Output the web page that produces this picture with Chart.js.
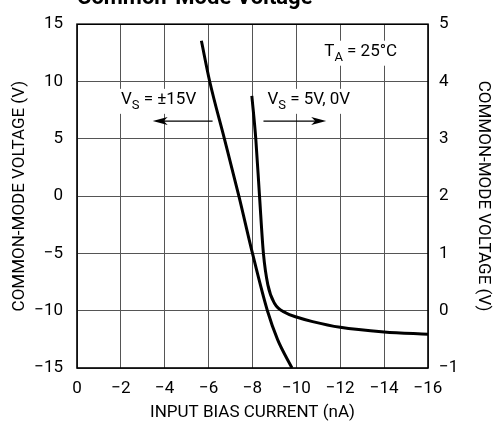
<!DOCTYPE html>
<html>
<head>
<meta charset="utf-8">
<script src="https://cdn.jsdelivr.net/npm/chart.js@4.4.0/dist/chart.umd.min.js"></script>
<style>
  html, body { margin: 0; padding: 0; background: #fff; }
  #wrap { width: 495px; height: 423px; }
</style>
</head>
<body>
<div id="wrap"><canvas id="chart" width="495" height="423"></canvas></div>
<script>
// --- data ---
// Vs = ±15V, plotted on left axis (V)
const dual15X = [-5.67, -6.05, -6.72, -7.38, -8.0, -8.68, -9.14, -9.8];
const dual15Y = [13.55, 10, 5, 0, -5, -10, -12.5, -15];

// Vs = 5V, 0V, plotted on right axis (V)
const singleX = [-7.97, -8.15, -8.32, -8.5, -8.7, -9.0, -9.53, -10.0, -10.74, -12.0, -14.0, -16.0];
const singleY = [3.75, 3.0, 2.0, 0.99, 0.45, 0.13, -0.04, -0.11, -0.19, -0.29, -0.37, -0.41];

const xTicks = [0, -2, -4, -6, -8, -10, -12, -14, -16];
const leftTicks = [15, 10, 5, 0, -5, -10, -15];
const rightTicks = [5, 4, 3, 2, 1, 0, -1];

const FONT = 'Roboto, "Liberation Sans", sans-serif';
const minus = v => (v < 0 ? "\u2212" + Math.abs(v) : String(v));
const toPts = (xs, ys) => xs.map((x, i) => ({ x: x, y: ys[i] }));

// labels and arrows, placed in data units (x, left y)
const notes = [
  { main: "T", sub: "A", rest: " = 25\u00b0C", x: -11.27, y: 12.6 },
  { main: "V", sub: "S", rest: " = \u00b115V", x: -2.0, y: 8.4 },
  { main: "V", sub: "S", rest: " = 5V, 0V", x: -8.68, y: 8.4 }
];
const arrows = [
  { from: -6.18, to: -3.45, y: 6.55 },
  { from: -8.5, to: -11.36, y: 6.55 }
];

const annotate = {
  id: "annotate",
  beforeDatasetsDraw(chart) {
    const { ctx, scales } = chart;
    const xs = scales.x, ys = scales.y;
    ctx.save();
    ctx.textBaseline = "middle";
    notes.forEach(n => {
      const px = xs.getPixelForValue(n.x);
      const py = ys.getPixelForValue(n.y);
      ctx.font = "17px " + FONT;
      const w1 = ctx.measureText(n.main).width;
      const w3 = ctx.measureText(n.rest).width;
      ctx.font = "13px " + FONT;
      const w2 = ctx.measureText(n.sub).width;
      ctx.fillStyle = "#fff";
      ctx.fillRect(px - 2, py - 11, w1 + w2 + w3 + 4, 25);
      ctx.fillStyle = "#000";
      ctx.textAlign = "left";
      ctx.font = "17px " + FONT;
      ctx.fillText(n.main, px, py);
      ctx.font = "13px " + FONT;
      ctx.fillText(n.sub, px + w1, py + 6);
      ctx.font = "17px " + FONT;
      ctx.fillText(n.rest, px + w1 + w2, py);
    });
    arrows.forEach(a => {
      const x0 = xs.getPixelForValue(a.from);
      const x1 = xs.getPixelForValue(a.to);
      const py = ys.getPixelForValue(a.y);
      const dir = Math.sign(x1 - x0);
      ctx.strokeStyle = "#000";
      ctx.lineWidth = 1.2;
      ctx.beginPath();
      ctx.moveTo(x0, py);
      ctx.lineTo(x1 - dir * 8, py);
      ctx.stroke();
      ctx.fillStyle = "#000";
      ctx.beginPath();
      ctx.moveTo(x1, py);
      ctx.lineTo(x1 - dir * 15, py - 4);
      ctx.lineTo(x1 - dir * 11, py);
      ctx.lineTo(x1 - dir * 15, py + 4);
      ctx.closePath();
      ctx.fill();
    });
    ctx.restore();
  },
  afterDraw(chart) {
    const { ctx, chartArea } = chart;
    ctx.save();
    ctx.fillStyle = "#000";
    ctx.font = "bold 22px " + FONT;
    ctx.textAlign = "left";
    ctx.textBaseline = "alphabetic";
    ctx.fillText("Common-Mode Voltage", chartArea.left, 4);
    ctx.strokeStyle = "#000";
    ctx.lineWidth = 1.6;
    ctx.strokeRect(chartArea.left, chartArea.top, chartArea.right - chartArea.left, chartArea.bottom - chartArea.top);
    ctx.restore();
  }
};

new Chart(document.getElementById("chart"), {
  type: "scatter",
  data: {
    datasets: [
      {
        label: "VS = ±15V",
        data: toPts(dual15X, dual15Y),
        yAxisID: "y",
        showLine: true,
        borderColor: "#000",
        borderWidth: 3,
        pointRadius: 0,
        cubicInterpolationMode: "monotone"
      },
      {
        label: "VS = 5V, 0V",
        data: toPts(singleX, singleY),
        yAxisID: "y2",
        showLine: true,
        borderColor: "#000",
        borderWidth: 3,
        pointRadius: 0,
        cubicInterpolationMode: "monotone"
      }
    ]
  },
  options: {
    responsive: false,
    animation: false,
    layout: { padding: { top: 17, left: 0, right: 0, bottom: 0 } },
    plugins: { legend: { display: false }, tooltip: { enabled: false }, title: { display: false } },
    scales: {
      x: {
        type: "linear",
        min: -16,
        max: 0,
        reverse: true,
        afterFit: s => { s.height = 55; },
        afterBuildTicks: s => { s.ticks = xTicks.map(v => ({ value: v })); },
        grid: { color: "#555", lineWidth: 1, drawTicks: false },
        border: { display: false },
        ticks: { color: "#000", padding: 11, font: { family: FONT, size: 17 }, callback: v => minus(v), maxRotation: 0 },
        title: { display: true, text: "INPUT BIAS CURRENT (nA)", color: "#000", font: { family: FONT, size: 17 }, padding: { top: 0, bottom: 0 } }
      },
      y: {
        position: "left",
        min: -15,
        max: 15,
        afterFit: s => { s.width = 77; },
        afterBuildTicks: s => { s.ticks = leftTicks.map(v => ({ value: v })); },
        grid: { color: "#555", lineWidth: 1, drawTicks: false },
        border: { display: false },
        ticks: { color: "#000", padding: 14, font: { family: FONT, size: 17 }, callback: v => minus(v) },
        title: { display: true, text: "COMMON-MODE VOLTAGE (V)", color: "#000", font: { family: FONT, size: 17 }, padding: { top: 10, bottom: 0 } }
      },
      y2: {
        position: "right",
        min: -1,
        max: 5,
        afterFit: s => { s.width = 67; },
        afterBuildTicks: s => { s.ticks = rightTicks.map(v => ({ value: v })); },
        grid: { display: false, drawTicks: false },
        border: { display: false },
        ticks: { color: "#000", padding: 11, font: { family: FONT, size: 17 }, callback: v => minus(v) },
        title: { display: true, text: "COMMON-MODE VOLTAGE (V)", color: "#000", font: { family: FONT, size: 17 }, padding: { top: 2, bottom: 0 } }
      }
    }
  },
  plugins: [annotate]
});
</script>
</body>
</html>
